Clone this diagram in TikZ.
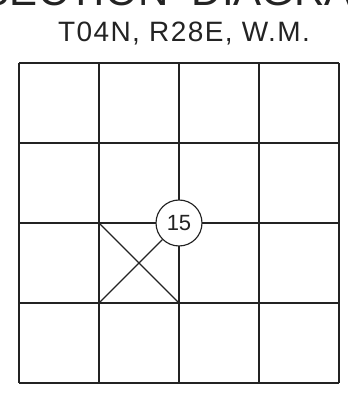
\documentclass[tikz,border=0pt]{standalone}
\usepackage{fontspec}
\setmainfont{Liberation Sans}
\usetikzlibrary{calc}
\definecolor{ink}{RGB}{35,35,35}
\tikzset{
  gridln/.style={draw=ink,line width=1.15pt},
  ttl/.style={font=\fontsize{42}{44}\selectfont,text=ink,anchor=base,inner sep=0pt},
  sub/.style={font=\fontsize{28}{30}\selectfont\addfontfeature{LetterSpace=5},text=ink,anchor=base,inner sep=0pt},
  secno/.style={circle,draw=ink,fill=white,line width=1.15pt,minimum size=46pt,inner sep=0pt,font=\fontsize{22}{24}\selectfont,text=ink},
}
\begin{document}
\begin{tikzpicture}[x=1pt,y=1pt]
\useasboundingbox (0,0) rectangle (348,399);
\clip (0,0) rectangle (348,399);
% ---- titles ----
\node[ttl] (title) at (185,393) {SECTION\ \ DIAGRAM};
\node[sub] (twp) at (184,357) {T04N,\ R28E,\ W.M.};
% ---- 4x4 section grid ----
\def\xo{19}\def\yo{16}\def\cell{80}
\foreach \i in {0,...,4}{
  \draw[gridln] (\xo+\cell*\i,\yo) -- (\xo+\cell*\i,\yo+4*\cell);
  \draw[gridln] (\xo,\yo+\cell*\i) -- (\xo+4*\cell,\yo+\cell*\i);
}
% cell corners of the marked quarter
\coordinate (qnw) at (99,176);
\coordinate (qse) at (179,96);
\coordinate (qsw) at (99,96);
\draw[gridln] (qnw) -- (qse);
% ---- section number ----
\node[secno] (sec) at (179,176) {15};
\draw[gridln] (qsw) -- (sec);
\end{tikzpicture}
\end{document}
